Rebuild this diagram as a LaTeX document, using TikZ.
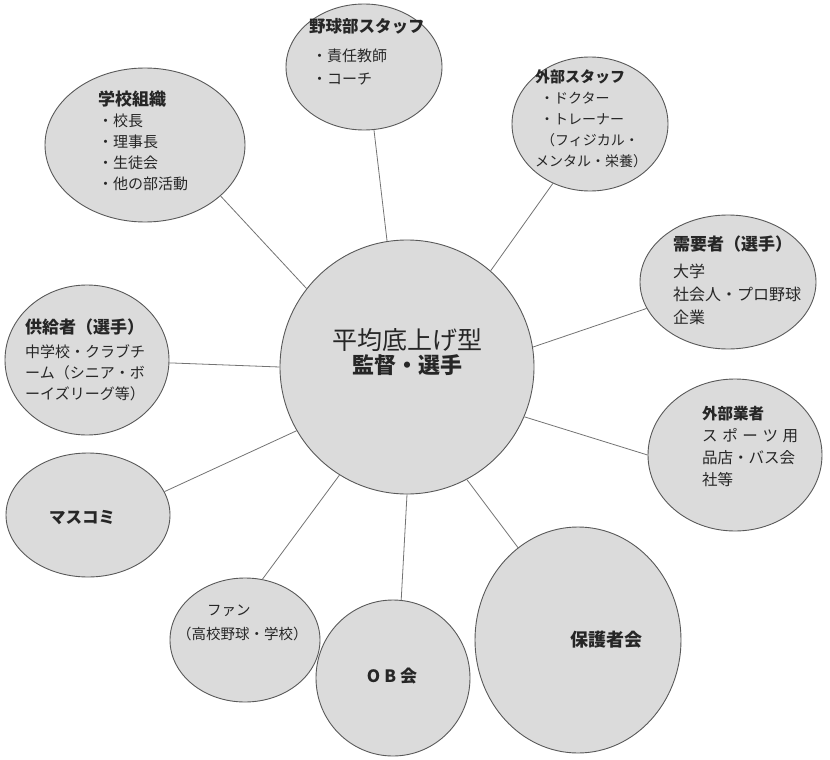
\documentclass[tikz,border=0pt]{standalone}
\usepackage{fontspec}
\setmainfont{Noto Sans CJK JP}
\usetikzlibrary{shapes.geometric}
\newcommand\fsz[2]{\fontsize{#1}{#2}\selectfont}
\begin{document}
\begin{tikzpicture}[x=1pt,y=-1pt,
  bub/.style={ellipse, draw=black!65, line width=0.9pt, fill=black!14, inner sep=0pt},
  link/.style={draw=black!55, line width=0.8pt},
  txt/.style={text=black!85, inner sep=0pt},
]
\useasboundingbox (0,0) rectangle (830,760);

% bubbles
\node[bub, minimum width=254pt, minimum height=254pt] (hub) at (407,367) {};
\node[bub, minimum width=200pt, minimum height=154pt] (school) at (145,145) {};
\node[bub, minimum width=156pt, minimum height=126pt] (club) at (364,67) {};
\node[bub, minimum width=156pt, minimum height=134pt] (outstaff) at (590,124) {};
\node[bub, minimum width=176pt, minimum height=134pt] (demand) at (728,282) {};
\node[bub, minimum width=164pt, minimum height=150pt] (supply) at (87,360) {};
\node[bub, minimum width=174pt, minimum height=152pt] (vendor) at (735,455) {};
\node[bub, minimum width=164pt, minimum height=124pt] (media) at (88,515) {};
\node[bub, minimum width=150pt, minimum height=124pt] (fans) at (245,640) {};
\node[bub, minimum width=154pt, minimum height=156pt] (ob) at (393,678) {};
\node[bub, minimum width=206pt, minimum height=226pt] (parents) at (578,640) {};

% connectors
\draw[link] (school.-34.6) -- (hub.142.6);
\draw[link] (club.-81.6) -- (hub.99.8);
\draw[link] (outstaff.238.1) -- (hub.49.1);
\draw[link] (demand.198.2) -- (hub.9.2);
\draw[link] (supply.-2.1) -- (hub.180);
\draw[link] (vendor.180) -- (hub.-23.8);
\draw[link] (media.17.4) -- (hub.210.2);
\draw[link] (fans.74.2) -- (hub.238.1);
\draw[link] (ob.84.9) -- (hub.270);
\draw[link] (parents.123.5) -- (hub.-62.7);

% texts
\node[txt, align=center] (hubT) at (407,352)
  {{\fsz{25}{28}平均底上げ型}\\[2pt]{\fsz{22}{26}\bfseries 監督・選手}};

\node[txt, align=left, anchor=north west, font=\fsz{15}{21}] (schoolT) at (98,91)
  {{\fsz{17}{21}\bfseries 学校組織}\\・校長\\・理事長\\・生徒会\\・他の部活動};

\node[txt, align=left, anchor=north west, font=\fsz{15}{23}] (clubT) at (309,18)
  {{\fsz{16.5}{22}\bfseries 野球部スタッフ}\\[6pt]\hspace{3pt}・責任教師\\\hspace{3pt}・コーチ};

\node[txt, align=left, anchor=north west, font=\fsz{14}{21}] (outstaffT) at (535,69)
  {{\fsz{15}{21}\bfseries 外部スタッフ}\\\hspace{5pt}・ドクター\\\hspace{5pt}・トレーナー\\\hspace{6pt}（フィジカル・\\メンタル・栄養）};

\node[txt, align=left, anchor=north west, font=\fsz{16}{23}] (demandT) at (673,235.5)
  {{\fsz{17}{22}\bfseries 需要者（選手）}\\[4pt]大学\\社会人・プロ野球\\企業};

\node[txt, align=left, anchor=north west, font=\fsz{15}{21}] (supplyT) at (25,318.5)
  {{\fsz{17}{21}\bfseries 供給者（選手）}\\[3pt]中学校・クラブチ\\ーム（シニア・ボ\\ーイズリーグ等）};

\node[txt, align=left, anchor=north west, font=\fsz{15.5}{22}] (vendorT) at (702,406)
  {{\bfseries 外部業者}\\\makebox[96pt][s]{ス\hfill ポ\hfill ー\hfill ツ\hfill 用}\\品店・バス会\\社等};

\node[txt, font=\fsz{16.5}{20}\bfseries] (mediaT) at (82,518) {マスコミ};

\node[txt, align=left, anchor=north west, font=\fsz{14.5}{24}] (fansT) at (177,605)
  {\hspace{30pt}ファン\\（高校野球・学校）};

\node[txt, font=\fsz{17}{20}\bfseries] (obT) at (392,676) {O\hspace{4pt}B\hspace{4pt}会};

\node[txt, font=\fsz{18}{22}\bfseries] (parentsT) at (606,640) {保護者会};

\end{tikzpicture}
\end{document}
